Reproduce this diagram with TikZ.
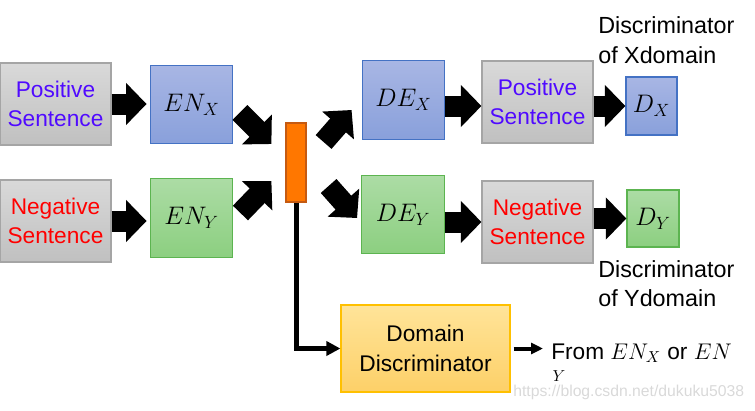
\RequirePackage{fix-cm}
\documentclass[tikz,border=0pt]{standalone}
\usepackage{amsmath}
\usepackage[no-math]{fontspec}
\newfontfamily\arial{Liberation Sans}
\usetikzlibrary{positioning,arrows.meta,calc}

\definecolor{posblue}{RGB}{80,10,255}
\definecolor{senttop}{RGB}{217,217,217}
\definecolor{sentbot}{RGB}{192,192,192}
\definecolor{sentdraw}{RGB}{165,165,165}
\definecolor{bluetop}{RGB}{168,182,228}
\definecolor{bluebot}{RGB}{137,160,219}
\definecolor{bluedraw}{RGB}{68,114,196}
\definecolor{greentop}{RGB}{172,220,165}
\definecolor{greenbot}{RGB}{140,207,128}
\definecolor{greendraw}{RGB}{92,180,80}
\definecolor{yeltop}{RGB}{255,228,153}
\definecolor{yelbot}{RGB}{253,208,104}
\definecolor{yeldraw}{RGB}{255,192,0}
\definecolor{barfill}{RGB}{255,119,0}
\definecolor{bardraw}{RGB}{197,90,17}

\begin{document}
\begin{tikzpicture}[x=0.75pt,y=-0.75pt,
  box/.style={draw,line width=0.9pt,inner sep=0pt,align=center},
  sentbox/.style={box,draw=sentdraw,top color=senttop,bottom color=sentbot,
    minimum width=83.25pt,minimum height=61.5pt,font=\arial\fontsize{17}{22}\selectfont},
  encbox/.style={box,minimum width=62pt,minimum height=59pt,font=\fontsize{19}{22}\selectfont},
  bluebox/.style={encbox,draw=bluedraw,top color=bluetop,bottom color=bluebot},
  greenbox/.style={encbox,draw=greendraw,top color=greentop,bottom color=greenbot},
  blockarr/.style={line width=15.75pt,-{Triangle[length=15.4pt,width=30.75pt]}},
  thinarr/.style={line width=3.75pt,-{Triangle[length=10.5pt,width=10.5pt]}},
  lbl/.style={inner sep=0pt,align=left,font=\arial\fontsize{17.5}{22}\selectfont}]

\useasboundingbox (0,0) rectangle (755,410);

% encoders
\node[sentbox,text=posblue] (pos1) at (55.5,104) {Positive\\Sentence};
\node[sentbox,text=red] (neg1) at (55.5,221) {Negative\\Sentence};
\node[bluebox] (enx) at (191.5,104.5) {$EN_X$};
\node[greenbox] (eny) at (191.5,218) {$EN_Y$};
\node[box,draw=bardraw,fill=barfill,minimum width=15pt,minimum height=59.25pt] (bar) at (296,162.5) {};

% decoders
\node[bluebox] (dex) at (403.5,100) {$DE_X$};
\node[greenbox] (dey) at (403,214.5) {$DE_Y$};
\node[sentbox,text=posblue] (pos2) at (537.5,102) {Positive\\Sentence};
\node[sentbox,text=red] (neg2) at (537.5,222) {Negative\\Sentence};
\node[bluebox,minimum width=38.25pt,minimum height=43.5pt] (dx) at (651.5,106) {$D_X$};
\node[greenbox,minimum width=39pt,minimum height=42.75pt] (dy) at (653,218.5) {$D_Y$};
\node[lbl,anchor=north west] (labx) at (598,16.5) {Discriminator\\of Xdomain};
\node[lbl,anchor=north west] (laby) at (598,260) {Discriminator\\of Ydomain};

% domain discriminator
\node[box,draw=yeldraw,top color=yeltop,bottom color=yelbot,minimum width=126.75pt,minimum height=65.25pt,
  font=\arial\fontsize{17}{22}\selectfont] (dd) at (425.5,348.5) {Domain\\Discriminator};
\node[lbl,font=\arial\fontsize{17}{22}\selectfont,anchor=north west] (from) at (551,343.5)
  {From $EN_X$ or $EN$\\[-8pt]\hspace*{1pt}$_Y$};
\node[inner sep=0pt,anchor=base west,text=gray!30,font=\arial\fontsize{11.8}{14}\selectfont] (wm) at (513,396)
  {https://blog.csdn.net/dukuku5038};

\draw[blockarr] (pos1.east) -- ([xshift=-2.25pt]pos1.east -| enx.west);
\draw[blockarr] (neg1.east) -- ([xshift=-2.25pt]neg1.east -| eny.west);
\draw[blockarr] ($(enx.east)+(6.5,8)$) -- ($(bar.west)+(-14,-18.5)$);
\draw[blockarr] ($(eny.east)+(7,-5)$) -- ($(bar.west)+(-14,18.5)$);
\draw[blockarr] ($(bar.east)+(17,-20.5)$) -- ($(dex.west)+(-10,10)$);
\draw[blockarr] ($(bar.east)+(22,23.5)$) -- ($(dey.west)+(-4,3.5)$);
\draw[blockarr] ([yshift=-3pt]dex.east |- pos2.west) -- ([yshift=-3pt]pos2.west);
\draw[blockarr] (dey.east |- neg2.west) -- (neg2.west);
\draw[blockarr] (pos2.east |- dx.west) -- (dx.west);
\draw[blockarr] (neg2.east |- dy.west) -- (dy.west);

\draw[thinarr] (bar.south) |- (dd.west);
\draw[line width=3pt,-{Triangle[length=9pt,width=8.25pt]},shorten <=2.25pt,shorten >=6pt]
  (dd.east) -- (dd.east -| from.west);
\end{tikzpicture}
\end{document}
